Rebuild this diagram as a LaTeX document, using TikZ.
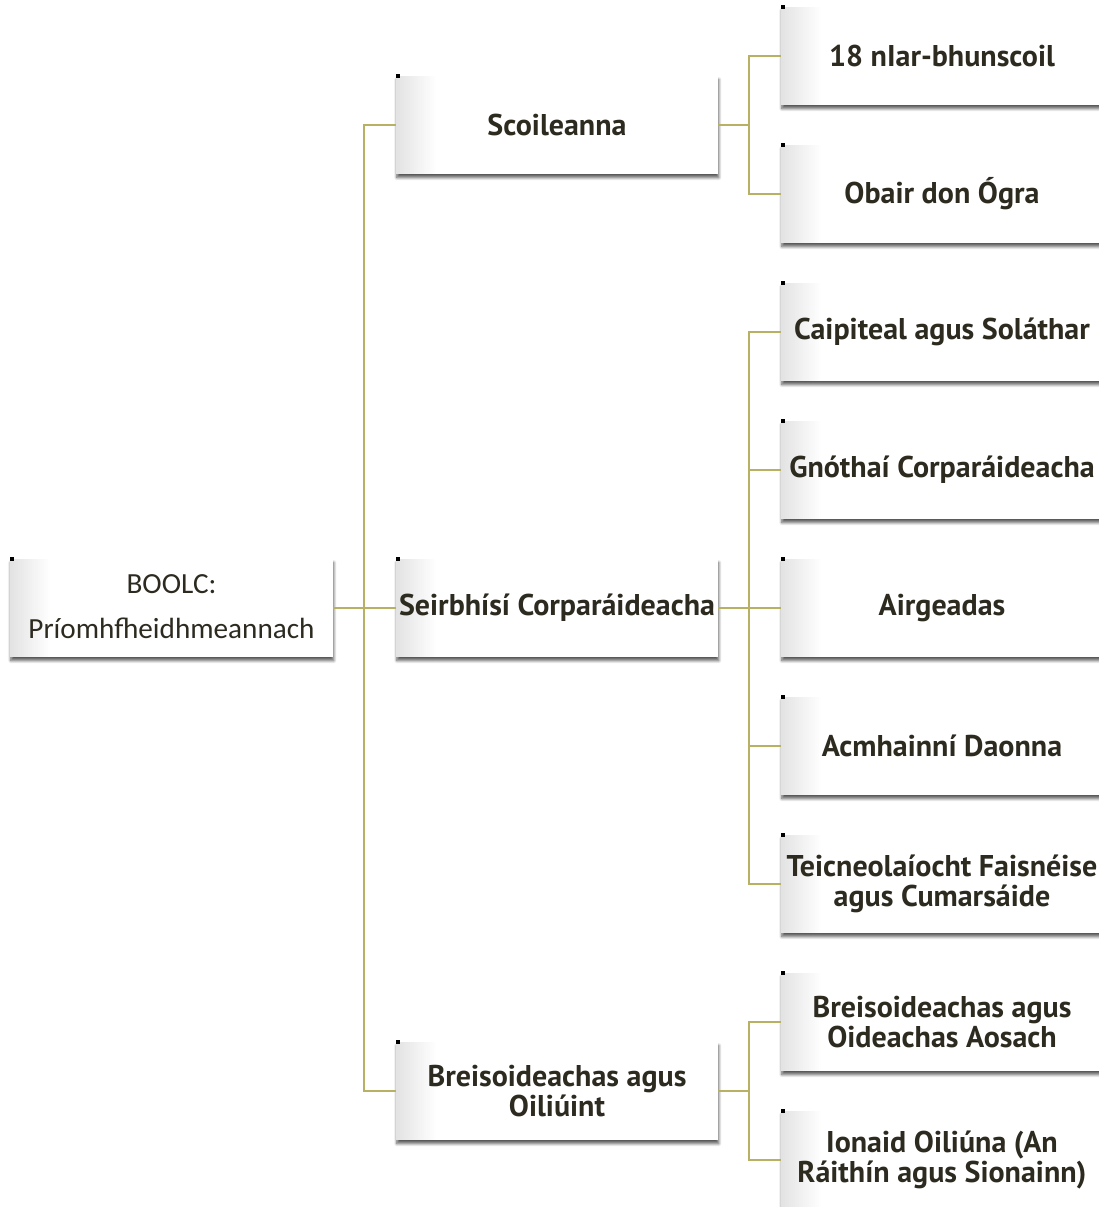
\documentclass[tikz,border=0pt]{standalone}
\usepackage{fontspec}
\newfontfamily\boxfont{PT Sans}
\newfontfamily\rootfont{Carlito}
\usepackage{tikz}
\usetikzlibrary{positioning, calc, shadows.blur}
\definecolor{linkcol}{RGB}{184,176,98}
\definecolor{txtcol}{RGB}{45,42,32}

\begin{document}
\begin{tikzpicture}[ x = 0.5pt, y = -0.5pt
                     , node distance = 20pt and 31.5pt
                     , box/.style = { rectangle
                                    , fill = white
                                    , minimum width = 161pt
                                    , minimum height = 49pt
                                    , inner sep = 0pt
                                    , outer sep = 0pt
                                    , align = center
                                    , text = txtcol
                                    , font = \boxfont\bfseries\fontsize{15}{15}\selectfont
                                    , blur shadow = {shadow xshift=0.4pt,shadow yshift=-1.8pt,shadow blur radius=1.4pt,shadow blur steps=8,shadow opacity=65}
                                    , path picture = {
                                        \foreach \i [evaluate = \i as \pc using 11-0.55*\i] in {0,...,19}
                                          \fill[black!\pc]
                                            ([xshift = \i pt]path picture bounding box.south west) rectangle
                                            ([xshift = \i pt + 1.2pt]path picture bounding box.north west); } }
                     , link/.style = { draw = linkcol, line width = 1pt }
                     ]

  \useasboundingbox (0,0) rectangle (1099,1207);

  % right column
  \node (nIar) [box] at (942,56) {18 nIar-bhunscoil};
  \node (obair) [box, below = of nIar] {Obair don Ógra};
  \node (caip) [box, below = of obair] {Caipiteal agus Soláthar};
  \node (gnoth) [box, below = of caip] {Gnóthaí Corparáideacha};
  \node (airg) [box, below = of gnoth] {Airgeadas};
  \node (acmh) [box, below = of airg] {Acmhainní Daonna};
  \node (teic) [box, below = of acmh] {Teicneolaíocht Faisnéise\\ agus Cumarsáide};
  \node (oid) [box, below = of teic] {Breisoideachas agus\\ Oideachas Aosach};
  \node (ionaid) [box, below = of oid] {Ionaid Oiliúna (An\\ Ráithín agus Sionainn)};

  % middle column
  \coordinate (mscoil) at ($(nIar.west)!0.5!(obair.west)$);
  \coordinate (mbreis) at ($(oid.west)!0.5!(ionaid.west)$);
  \node (scoil) [box, left = of mscoil] {Scoileanna};
  \node (seirb) [box, left = of airg] {Seirbhísí Corparáideacha};
  \node (breis) [box, left = of mbreis] {Breisoideachas agus\\ Oiliúint};

  \node (root) [box, left = of seirb, minimum width = 161.5pt, text depth = 1pt,
                font = \rootfont\fontsize{14.6}{22.5}\selectfont]
                {BOOLC:\\ Príomhfheidhmeannach};

  \foreach \n in {root, scoil, seirb, breis, nIar, obair, caip, gnoth, airg, acmh, teic, oid, ionaid}
    \fill[black] ([yshift = 1pt]\n.north west) rectangle ++(2pt,-2pt);

  \draw[link] (root.east) -- (seirb.west);
  \draw[link] (root.east) -- +(15.5pt,0) |- (scoil.west);
  \draw[link] (root.east) -- +(15.5pt,0) |- (breis.west);

  \foreach \c in {nIar, obair}
    \draw[link] (scoil.east) -- +(15.5pt,0) |- (\c.west);
  \foreach \c in {caip, gnoth, airg, acmh, teic}
    \draw[link] (seirb.east) -- +(15.5pt,0) |- (\c.west);
  \foreach \c in {oid, ionaid}
    \draw[link] (breis.east) -- +(15.5pt,0) |- (\c.west);

\end{tikzpicture}
\end{document}
